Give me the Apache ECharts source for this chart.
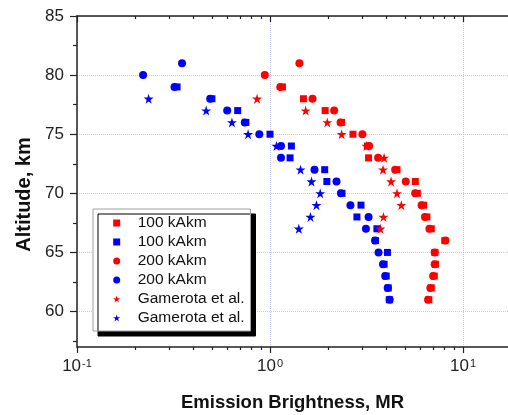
<!DOCTYPE html>
<html>
<head>
<meta charset="utf-8">
<script src="https://cdn.jsdelivr.net/npm/echarts@6.0.0/dist/echarts.min.js"></script>
<style>
  html, body { margin: 0; padding: 0; background: #fff; }
  #chart { width: 508px; height: 415px; }
</style>
</head>
<body>
<div id="chart"></div>
<script>
// altitude rows, km (top to bottom)
const altitudes = [81, 80, 79, 78, 77, 76, 75, 74, 73, 72, 71, 70, 69, 68, 67, 66, 65, 64, 63, 62, 61];

// emission brightness, MR (null = no point at that altitude)
const red100 = [null, null, 1.16, 1.49, 1.93, 2.35, 2.69, 3.2, 3.24, 4.55, 5.66, 5.8, 6.25, 6.5, 6.85, 8.05, 7.15, 7.2, 7.1, 6.85, 6.65];
const blue100 = [null, null, 0.33, 0.5, 0.68, 0.75, 1.0, 1.29, 1.27, 1.92, 1.97, 2.36, 2.96, 2.82, 3.58, 3.52, 4.06, 3.9, 4.0, 4.1, 4.15];
const red200 = [1.42, 0.94, 1.13, 1.66, 2.15, 2.32, 3.01, 3.26, 3.63, 4.45, 5.05, 5.65, 6.1, 6.35, 6.7, 8.1, 7.13, 7.13, 7.0, 6.77, 6.59];
const blue200 = [0.35, 0.22, 0.32, 0.49, 0.6, 0.74, 0.88, 1.14, 1.14, 1.7, 2.21, 2.33, 2.61, 3.24, 3.14, 3.5, 3.65, 3.85, 3.95, 4.07, 4.17];
const redGam = [null, null, null, 0.857, 1.53, 1.98, 2.35, 3.16, 3.9, 3.85, 4.24, 4.55, 4.79, 3.87, 3.73, null, null, null, null, null, null];
const blueGam = [null, null, null, 0.235, 0.467, 0.635, 0.77, 1.08, null, 1.44, 1.64, 1.82, 1.74, 1.62, 1.41, null, null, null, null, null, null];

const legendLabels = ['100 kAkm', '100 kAkm', '200 kAkm', '200 kAkm', 'Gamerota et al.', 'Gamerota et al.'];

// axis ticks
const majorX = [0.1, 1, 10];
const minorX = [0.2, 0.3, 0.4, 0.5, 0.6, 0.7, 0.8, 0.9, 2, 3, 4, 5, 6, 7, 8, 9];
const majorY = [60, 65, 70, 75, 80, 85];
const minorY = [57.5, 62.5, 67.5, 72.5, 77.5, 82.5];

const FONT = '"Liberation Sans", Arial, sans-serif';
const RED = '#ff0000';
const BLUE = '#0000ff';

const SQUARE = 'path://M0,0 L10,0 L10,10 L0,10 Z';
const CIRCLE = 'path://M0,5 A5,5 0 1,0 10,5 A5,5 0 1,0 0,5 Z';
const STAR = 'path://M50,0 L61.2,34.5 L97.6,34.5 L68.2,55.9 L79.4,90.5 L50,69.1 L20.6,90.5 L31.8,55.9 L2.4,34.5 L38.8,34.5 Z';

const toPoints = (values) =>
  altitudes.map((a, i) => [values[i], a]).filter(p => p[0] !== null);

const xBase = { type: 'log', logBase: 10, min: 0.1, max: 17.1, gridIndex: 0 };
const yBase = { type: 'value', min: 57, max: 85, gridIndex: 0 };
const axisColor = '#222';

const getOption = () => {
  const names = ['r100', 'b100', 'r200', 'b200', 'rgam', 'bgam'];
  const makeSeries = (i, symbol, size, color, values) => ({
    name: names[i],
    type: 'scatter',
    symbol: symbol,
    symbolSize: size,
    itemStyle: { color: color, opacity: 1 },
    data: toPoints(values)
  });

  return {
    animation: false,
    backgroundColor: '#fff',
    grid: { left: 77, top: 16, right: 0, bottom: 68, outerBoundsMode: 'none' },
    legend: {
      orient: 'vertical',
      left: 93,
      top: 209,
      data: names,
      formatter: name => legendLabels[names.indexOf(name)],
      selectedMode: false,
      itemWidth: 32,
      itemHeight: 7,
      itemGap: 3,
      padding: [6, 6, 5, 20],
      backgroundColor: '#fff',
      borderColor: '#a0a0a0',
      borderWidth: 1,
      borderRadius: 0,
      shadowColor: '#000',
      shadowBlur: 0,
      shadowOffsetX: 5,
      shadowOffsetY: 5,
      textStyle: { fontFamily: FONT, fontSize: 15.5, lineHeight: 16, color: '#111' }
    },
    xAxis: [
      {
        ...xBase,
        position: 'bottom',
        name: 'Emission Brightness, MR',
        nameLocation: 'middle',
        nameGap: 46,
        nameTextStyle: { fontFamily: FONT, fontSize: 18.5, fontWeight: 'bold', color: '#111' },
        axisLine: { show: true, lineStyle: { color: axisColor, width: 1.5 } },
        axisTick: { show: true, inside: false, length: 6, customValues: majorX, lineStyle: { color: axisColor, width: 1.2 } },
        axisLabel: {
          customValues: majorX,
          margin: 11,
          formatter: v => '{b|10}{s|' + Math.round(Math.log10(v)) + '}',
          rich: {
            b: { fontFamily: FONT, fontSize: 17, color: '#222' },
            s: { fontFamily: FONT, fontSize: 11, color: '#222', verticalAlign: 'top', padding: [0, 0, 0, 1] }
          }
        },
        splitLine: { show: true, lineStyle: { color: '#c8c8f2', type: 'dotted', width: 1 } }
      },
      {
        ...xBase,
        position: 'bottom',
        axisLine: { show: false },
        axisTick: { show: true, inside: false, length: 3, customValues: minorX, lineStyle: { color: axisColor, width: 1.2 } },
        axisLabel: { show: false },
        splitLine: { show: false }
      },
      {
        ...xBase,
        position: 'top',
        axisLine: { show: true, lineStyle: { color: axisColor, width: 1.5 } },
        axisTick: { show: true, inside: true, length: 6, customValues: majorX, lineStyle: { color: axisColor, width: 1.2 } },
        axisLabel: { show: false },
        splitLine: { show: false }
      },
      {
        ...xBase,
        position: 'top',
        axisLine: { show: false },
        axisTick: { show: true, inside: true, length: 3, customValues: minorX, lineStyle: { color: axisColor, width: 1.2 } },
        axisLabel: { show: false },
        splitLine: { show: false }
      }
    ],
    yAxis: [
      {
        ...yBase,
        position: 'left',
        name: 'Altitude, km',
        nameLocation: 'middle',
        nameRotate: 90,
        nameGap: 43,
        nameTextStyle: { fontFamily: FONT, fontSize: 20, fontWeight: 'bold', color: '#111', padding: [0, 26, 0, 0] },
        axisLine: { show: true, lineStyle: { color: axisColor, width: 1.5 } },
        axisTick: { show: true, inside: false, length: 7, customValues: majorY, lineStyle: { color: axisColor, width: 1.2 } },
        axisLabel: { customValues: majorY, margin: 13, fontFamily: FONT, fontSize: 17, color: '#222' },
        splitLine: { show: true, lineStyle: { color: '#c8c8f2', type: 'dotted', width: 1 } }
      },
      {
        ...yBase,
        position: 'left',
        axisLine: { show: false },
        axisTick: { show: true, inside: false, length: 4, customValues: minorY, lineStyle: { color: axisColor, width: 1.2 } },
        axisLabel: { show: false },
        splitLine: { show: false }
      }
    ],
    series: [
      makeSeries(0, SQUARE, 7, RED, red100),
      makeSeries(1, SQUARE, 7, BLUE, blue100),
      makeSeries(2, CIRCLE, 8, RED, red200),
      makeSeries(3, CIRCLE, 8, BLUE, blue200),
      makeSeries(4, STAR, 10, RED, redGam),
      makeSeries(5, STAR, 10, BLUE, blueGam)
    ]
  };
};

const initChart = () => {
  const chart = echarts.init(document.getElementById('chart'), null, { renderer: 'canvas' });
  chart.setOption(getOption());
};

window.addEventListener('load', () => {
  initChart();
});
</script>
</body>
</html>
